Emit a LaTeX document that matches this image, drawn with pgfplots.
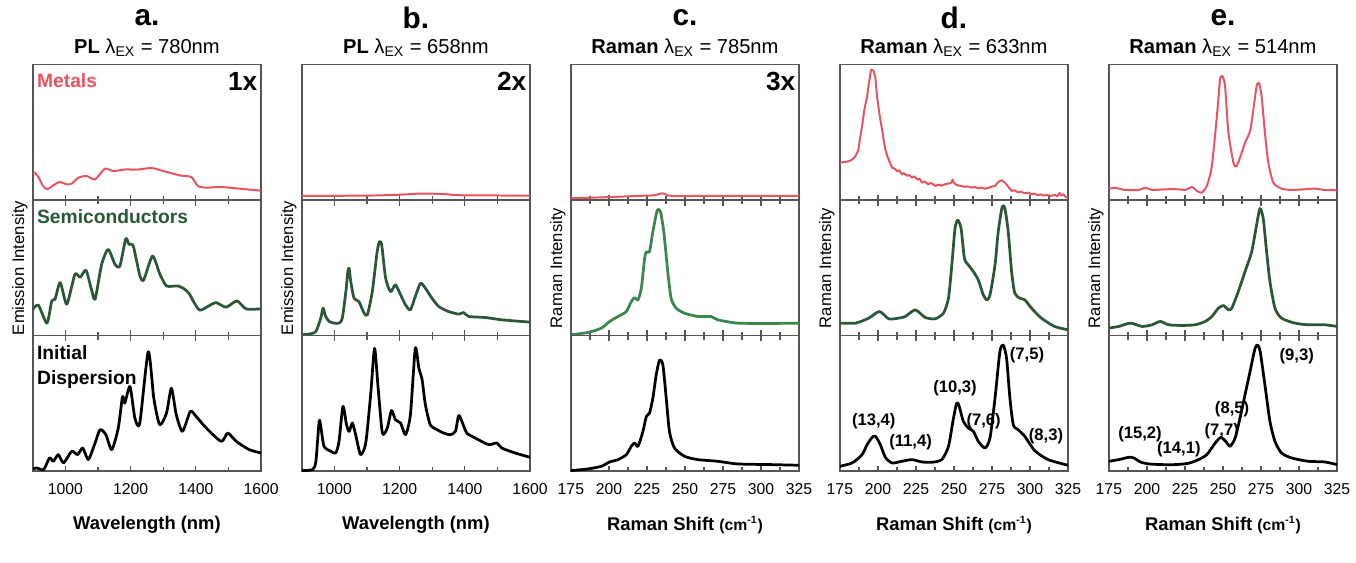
\documentclass[border=0pt]{standalone}
\usepackage{pgfplots}
\pgfplotsset{compat=1.18}
\usepgfplotslibrary{groupplots}
\usepackage{fontspec}
\setmainfont{Liberation Sans}
\definecolor{metal}{RGB}{232,84,94}
\definecolor{semi}{RGB}{42,88,54}
\definecolor{semic}{RGB}{58,135,76}
\definecolor{framec}{RGB}{85,85,85}
\pgfplotsset{
 PL/.style={xmin=900,xmax=1600,xtick={1000,1200,1400,1600},minor xtick={1100,1300,1500}},
 RM/.style={xmin=175,xmax=325,xtick={175,200,225,250,275,300,325},minor x tick num=1},
 mline/.style={metal,line width=0.4mm},
 sline/.style={semi,line width=0.55mm},
 kline/.style={black,line width=0.55mm},
}
\newcommand{\lab}{\fontsize{11}{13}\selectfont\bfseries}
\newcommand{\pk}{\fontsize{9.5}{11}\selectfont\bfseries}
\newcommand{\magn}{\fontsize{15}{16}\selectfont\bfseries}
\begin{document}
\begin{tikzpicture}
\begin{groupplot}[
 group style={group size=5 by 3, horizontal sep=8.2mm, vertical sep=0pt, xticklabels at=edge bottom},
 width=45.8mm, height=27.2mm, scale only axis,
 ymin=0, ymax=408, ytick=\empty,
 axis line style={draw=framec, line width=0.3mm},
 tick style={draw=framec, line width=0.25mm},
 major tick length=1.1mm, minor tick length=0.8mm, tick align=inside,
 xticklabel style={font=\fontsize{9}{10}\selectfont, yshift=-1.3mm},
 /pgf/number format/assume math mode=true,
 /pgf/number format/1000 sep={},
 xlabel style={font=\fontsize{10.5}{12}\selectfont\bfseries, at={(axis description cs:0.5,0)}, anchor=center, yshift=-10.8mm},
 every axis plot/.append style={smooth, tension=0.4, line join=round},
]
% ---------- row 1 : metals
\nextgroupplot[PL, xtick pos=lower]
\addplot[mline] coordinates {(900,78)(905,83)(917,70)(930,45)(943,33)(963,45)(982,55)(1004,48)(1019,50)(1040,68)(1065,73)(1091,63)(1121,95)(1147,88)(1187,93)(1218,92)(1264,97)(1300,88)(1350,75)(1386,70)(1406,43)(1432,38)(1473,40)(1513,37)(1554,33)(1600,29)};
\node[anchor=west,text=metal,font=\lab,inner sep=0pt] at (rel axis cs:0.017,0.88) {Metals};
\node[anchor=east,font=\magn,inner sep=0pt] at (rel axis cs:0.985,0.88) {1x};
\nextgroupplot[PL, xtick pos=lower]
\addplot[mline] coordinates {(900,13)(1106,14)(1208,17)(1259,20)(1330,19)(1391,15)(1600,14)};
\node[anchor=east,font=\magn,inner sep=0pt] at (rel axis cs:0.985,0.88) {2x};
\nextgroupplot[RM, xtick pos=lower]
\addplot[mline] coordinates {(175,6)(197.3,9)(219.1,13)(230,15)(235.5,21)(240.9,13)(262.8,13)(325,13)};
\node[anchor=east,font=\magn,inner sep=0pt] at (rel axis cs:0.985,0.88) {3x};
\nextgroupplot[RM, xtick pos=lower]
\addplot[mline,sharp plot] coordinates {(175,113)(178,115)(181,118)(183,122)(185.3,133)(187,150)(189.6,223)(191,270)(192.9,313)(194,350)(195.5,393)(196.5,392)(197.3,388)(198.3,370)(199.4,313)(201,260)(202.7,213)(204,175)(204.9,153)(206,135)(207.5,118)(209.3,98)(211,95)(212.5,88)(214,90)(215.8,78)(217,82)(219,74)(220.5,76)(222.4,68)(224,72)(226,62)(227.5,65)(228.9,53)(231,56)(233,48)(235,52)(237.7,43)(240,47)(242,44)(244.2,48)(246,50)(248,52)(249.2,62)(249.7,55)(251,48)(253,44)(255.1,43)(257,40)(259,42)(261.7,38)(264,40)(266,36)(268,38)(270.4,35)(272.5,37)(274,40)(277,43)(278.5,52)(280.2,58)(281.5,60)(283.5,53)(285,45)(287.9,28)(290,30)(292,24)(294,26)(296.6,21)(299,23)(301,18)(303,20)(305.3,15)(307,18)(309,14)(311,16)(314.1,13)(316,16)(318,12)(319.5,22)(320.6,14)(322,18)(323.5,10)(325,11)};
\nextgroupplot[RM, xtick pos=lower]
\addplot[mline] coordinates {(175,35)(179.4,37)(185.9,31)(194.6,31)(199,38)(203.4,31)(212.1,33)(220.8,33)(225.2,31)(229.6,40)(232.9,28)(236.1,23)(239.4,43)(242.7,103)(246,253)(248.1,363)(249.7,373)(251.4,343)(253.6,203)(256.9,113)(259,103)(262.3,143)(264.5,173)(267.8,208)(270,273)(272.1,343)(273.7,353)(275.4,313)(277.6,203)(279.8,113)(283.1,53)(288.5,35)(295.1,31)(303.8,33)(310.4,35)(316.9,31)(325,30)};
% ---------- row 2 : semiconductors
\nextgroupplot[PL]
\addplot[sline] coordinates {(900,80)(917,92)(943,38)(958,105)(968,110)(984,160)(1004,95)(1029,185)(1045,176)(1063,197)(1080,138)(1091,110)(1111,215)(1131,260)(1152,215)(1167,210)(1185,292)(1195,275)(1208,270)(1228,182)(1240,168)(1267,240)(1289,187)(1310,150)(1345,150)(1366,140)(1381,125)(1391,106)(1412,77)(1442,91)(1462,100)(1493,86)(1526,105)(1554,81)(1600,81)};
\node[anchor=west,text=semi,font=\lab,inner sep=0pt] at (rel axis cs:0.017,0.88) {Semiconductors};
\nextgroupplot[PL]
\addplot[sline] coordinates {(900,3)(922,5)(943,13)(958,53)(965,83)(973,58)(984,43)(999,38)(1014,38)(1024,53)(1035,133)(1041,193)(1045,203)(1050,163)(1060,113)(1075,103)(1091,68)(1101,63)(1116,133)(1131,253)(1138,283)(1145,273)(1157,173)(1172,133)(1187,153)(1203,123)(1218,93)(1233,78)(1248,118)(1264,158)(1279,143)(1299,113)(1320,88)(1350,73)(1381,65)(1396,70)(1412,58)(1462,55)(1513,48)(1600,41)};
\nextgroupplot[RM]
\addplot[semic,line width=0.55mm] coordinates {(175,3)(186.4,10)(195.1,23)(200.5,43)(206,58)(211.5,73)(214.7,103)(216.9,115)(219.1,108)(221.3,143)(223.5,233)(224.6,253)(226.7,253)(228.9,313)(231.8,378)(233.9,373)(236.1,313)(238.7,193)(240.9,113)(244.2,83)(249.7,68)(258.4,58)(267.1,58)(271.5,48)(284.6,38)(306.4,37)(325,38)};
\nextgroupplot[RM]
\addplot[sline] coordinates {(175,38)(185.3,38)(194,53)(201,73)(207.1,51)(213.6,53)(218,58)(224.6,78)(231.1,55)(237.7,51)(243.1,68)(246.4,113)(248.6,213)(250.7,323)(252.5,348)(254.7,323)(256.9,233)(259.5,213)(262.8,193)(266,168)(269.3,123)(271.5,108)(273.7,123)(277,213)(279.1,313)(281.7,388)(283.5,383)(285.7,313)(287.9,193)(290,128)(293.3,113)(296.6,108)(301,83)(307.5,53)(316.2,28)(325,18)};
\nextgroupplot[RM]
\addplot[sline] coordinates {(175,23)(181.5,28)(189.2,38)(196.8,28)(203.4,33)(208.8,43)(214.3,33)(223,31)(231.8,33)(238.3,43)(242.7,58)(247,83)(250.3,91)(253.6,78)(255.8,83)(260.1,133)(264.5,193)(268.9,253)(272.1,333)(274.3,383)(276.5,353)(278.7,253)(280.9,163)(284.2,83)(288.5,53)(297.3,38)(306,33)(316.9,33)(325,28)};
% ---------- row 3 : initial dispersion
\nextgroupplot[PL, xlabel={Wavelength (nm)}]
\addplot[kline] coordinates {(900,7)(912,10)(933,5)(951,40)(963,30)(978,50)(994,25)(1019,60)(1037,50)(1053,70)(1070,35)(1089,80)(1106,125)(1124,110)(1142,65)(1162,130)(1175,225)(1182,205)(1198,255)(1213,160)(1228,145)(1254,360)(1271,220)(1289,140)(1310,175)(1325,250)(1340,170)(1359,120)(1383,180)(1401,165)(1432,130)(1478,90)(1498,115)(1524,90)(1564,65)(1600,55)};
\node[anchor=north west,align=left,font=\lab,inner sep=0pt] at (rel axis cs:0.017,0.93) {Initial\\[1pt]Dispersion};
\nextgroupplot[PL, xlabel={Wavelength (nm)}]
\addplot[kline] coordinates {(900,2)(933,5)(943,30)(953,150)(958,135)(968,75)(989,60)(1004,55)(1014,90)(1026,195)(1037,140)(1045,120)(1055,145)(1065,110)(1080,50)(1096,85)(1111,230)(1123,370)(1134,250)(1147,115)(1162,130)(1175,183)(1187,155)(1203,145)(1218,110)(1233,170)(1248,370)(1259,310)(1269,275)(1279,200)(1294,140)(1315,125)(1335,115)(1355,110)(1371,120)(1381,168)(1391,150)(1406,115)(1432,100)(1473,80)(1498,85)(1513,70)(1554,55)(1600,42)};
\nextgroupplot[RM, xlabel={Raman Shift {\fontsize{9}{10}\selectfont(cm\textsuperscript{-1})}}]
\addplot[kline] coordinates {(175,2)(186.4,7)(195.1,15)(200.5,28)(206,35)(211.5,50)(214.7,75)(216.9,85)(219.1,75)(222.4,120)(224.6,165)(226.7,175)(228.9,220)(231.1,290)(233.3,335)(235.5,320)(237.7,220)(239.8,120)(243.1,70)(249.7,45)(258.4,35)(271.5,30)(284.6,22)(306.4,20)(325,18)};
\nextgroupplot[RM, xlabel={Raman Shift {\fontsize{9}{10}\selectfont(cm\textsuperscript{-1})}}]
\addplot[kline] coordinates {(175,15)(183.1,25)(189.6,50)(192.9,80)(196.2,102)(198.4,105)(201.6,80)(204.9,42)(209.3,25)(215.8,30)(222.4,35)(228.9,28)(235.5,27)(242,35)(246.4,75)(249.7,160)(251.8,205)(253.3,198)(256.2,150)(259.5,130)(262.8,120)(266,90)(270.4,70)(273.7,100)(277,220)(280.2,360)(282.4,380)(284.6,340)(286.8,220)(289,140)(292.2,125)(296.6,105)(303.1,62)(311.9,35)(325,18)};
\node[font=\pk] at (axis cs:197.3,150) {(13,4)};
\node[font=\pk] at (axis cs:221.5,88) {(11,4)};
\node[font=\pk] at (axis cs:250.7,250) {(10,3)};
\node[font=\pk] at (axis cs:269.5,150) {(7,6)};
\node[font=\pk] at (axis cs:298,350) {(7,5)};
\node[font=\pk] at (axis cs:310.5,105) {(8,3)};
\nextgroupplot[RM, xlabel={Raman Shift {\fontsize{9}{10}\selectfont(cm\textsuperscript{-1})}}]
\addplot[kline] coordinates {(175,30)(181.5,35)(188.1,42)(191.4,40)(195.7,28)(201.2,22)(209.9,20)(218.7,20)(227.4,24)(233.9,35)(239.4,50)(244.9,85)(248.6,102)(251.8,90)(254.7,75)(258,100)(261.2,160)(264.5,230)(267.8,300)(271.1,370)(272.8,380)(274.5,360)(277.6,260)(280.9,150)(284.2,90)(288.5,55)(295.1,40)(306,30)(316.9,28)(325,20)};
\node[font=\pk] at (axis cs:195.5,112) {(15,2)};
\node[font=\pk] at (axis cs:221,65) {(14,1)};
\node[font=\pk] at (axis cs:249.2,120) {(7,7)};
\node[font=\pk] at (axis cs:256,188) {(8,5)};
\node[font=\pk] at (axis cs:298.5,345) {(9,3)};
\end{groupplot}
% titles
\path (group c1r1.north) ++(0,9.4mm) node{\fontsize{17}{18}\selectfont\bfseries a.};
\path (group c2r1.north) ++(0,9.4mm) node{\fontsize{17}{18}\selectfont\bfseries b.};
\path (group c3r1.north) ++(0,9.4mm) node{\fontsize{17}{18}\selectfont\bfseries c.};
\path (group c4r1.north) ++(0,9.4mm) node{\fontsize{17}{18}\selectfont\bfseries d.};
\path (group c5r1.north) ++(0,9.4mm) node{\fontsize{17}{18}\selectfont\bfseries e.};
\path (group c1r1.north) ++(0,3.5mm) node{\fontsize{11.5}{13}\selectfont\textbf{PL} λ\textsubscript{EX} = 780nm};
\path (group c2r1.north) ++(0,3.5mm) node{\fontsize{11.5}{13}\selectfont\textbf{PL} λ\textsubscript{EX} = 658nm};
\path (group c3r1.north) ++(0,3.5mm) node{\fontsize{11.5}{13}\selectfont\textbf{Raman} λ\textsubscript{EX} = 785nm};
\path (group c4r1.north) ++(0,3.5mm) node{\fontsize{11.5}{13}\selectfont\textbf{Raman} λ\textsubscript{EX} = 633nm};
\path (group c5r1.north) ++(0,3.5mm) node{\fontsize{11.5}{13}\selectfont\textbf{Raman} λ\textsubscript{EX} = 514nm};
% y labels
\path (group c1r2.west) ++(-2.6mm,0) node[rotate=90,font=\fontsize{9.5}{11}\selectfont]{Emission Intensity};
\path (group c2r2.west) ++(-2.6mm,0) node[rotate=90,font=\fontsize{9.5}{11}\selectfont]{Emission Intensity};
\path (group c3r2.west) ++(-2.6mm,0) node[rotate=90,font=\fontsize{9.5}{11}\selectfont]{Raman Intensity};
\path (group c4r2.west) ++(-2.6mm,0) node[rotate=90,font=\fontsize{9.5}{11}\selectfont]{Raman Intensity};
\path (group c5r2.west) ++(-2.6mm,0) node[rotate=90,font=\fontsize{9.5}{11}\selectfont]{Raman Intensity};
% bounding box of the reference
\path (group c1r1.north west) ++(-6.6mm,13mm) rectangle ++(271.2mm,-113mm);
\end{tikzpicture}
\end{document}
